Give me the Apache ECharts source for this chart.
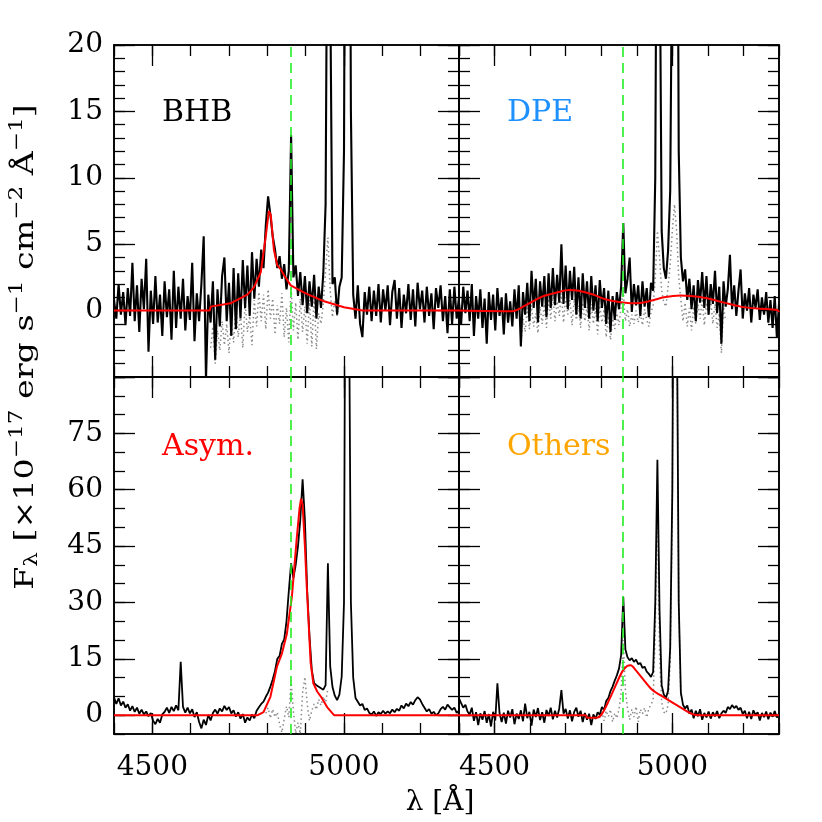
<!DOCTYPE html>
<html>
<head>
<meta charset="utf-8">
<script src="https://cdn.jsdelivr.net/npm/echarts@6/dist/echarts.min.js"></script>
<style>
  html, body { margin: 0; padding: 0; background: #fff; }
  #chart { width: 822px; height: 822px; }
</style>
</head>
<body>
<div id="chart"></div>
<script>
// wavelength grid of the spectra (Angstrom)
var waveStart = 4400, waveStep = 6;

// observed flux, one value per grid step (4400..5300)
var fluxBHB = [
  0.8, -0.6, 2.0, -0.3, 1.4, -1.1, 1.7, -0.4, 3.6, -0.8,
  1.9, -1.6, 2.4, 0.1, 3.9, -3.1, 1.5, -1.0, 2.6, -0.9,
  1.2, -1.9, 2.2, -0.5, 1.6, -2.2, 3.0, -1.3, 1.8, -0.6,
  2.4, -1.5, 1.1, -0.7, 3.6, -2.3, 1.3, -0.8, 2.0, 5.6,
  -5.2, 1.2, -0.9, 2.2, -3.7, 1.6, -1.2, 2.6, 4.0, -0.8,
  2.1, -1.9, 3.2, -1.4, 2.8, -0.6, 3.8, 0.2, 3.4, -0.4,
  4.4, 0.9, 3.9, 1.8, 4.6, 3.2, 6.4, 8.6, 7.2, 5.6,
  4.6, 3.2, 4.1, 2.4, 3.5, 1.6, 3.0, 13.2, 2.5, 3.4,
  1.1, 2.9, 0.4, 2.6, -0.2, 2.2, 0.3, 2.7, -0.6, 1.8,
  0.2, 2.8, 8, 40, 25, 2, 2.5, -0.3, 1.8, 2.5,
  12, 60, 60, 15, 1.2, -0.6, 1.9, -1.0, -2.0, 1.4,
  -0.3, 1.8, -0.8, 1.5, -0.4, 2.0, -0.9, 1.6, 0.0, 1.9,
  -1.1, 1.4, 2.3, -0.6, 1.7, -1.3, 1.2, -0.2, 2.0, -0.7,
  1.6, -1.2, 2.1, 0.1, 1.5, -0.9, 1.8, -0.4, 1.3, -1.4,
  1.7, 0.2, 1.9, -0.8, 1.1, -1.7, 1.6, -1.0, 1.8, -0.6, 1.0
];
var fluxDPE = [
  0.6, -1.0, 1.8, -0.2, 1.5, -0.8, 2.0, -1.9, 1.1, -0.6,
  1.6, -1.3, 0.9, -2.5, 1.4, -0.7, 1.2, -1.5, 1.7, -0.4,
  1.0, -1.8, 1.3, -0.9, 0.7, -1.2, 1.6, -0.6, 1.9, -2.7,
  1.4, -0.3, 2.1, -0.8, 3.0, 0.2, 2.4, -0.9, 2.2, 0.3,
  2.6, -0.5, 2.8, 0.2, 3.2, 0.4, 2.7, 0.6, 5.0, 0.5,
  3.4, 0.1, 3.0, 0.8, 3.3, -0.3, 2.5, -0.6, 2.8, 0.2,
  2.2, -0.6, 2.6, 0.0, 1.9, -0.8, 2.3, 0.2, 1.7, -1.0,
  1.5, -1.6, 1.1, -0.7, 1.4, 0.1, 1.8, 6.6, 1.3, 2.4,
  4.0, -0.1, 2.0, 0.4, 1.9, -0.4, 2.2, 0.3, 1.7, -0.5,
  2.1, 1.5, 10, 45, 30, 6, 3.2, 2.4, 4.5, 9,
  30, 60, 50, 12, 4.0, 2.2, 3.1, 0.8, 2.4, 0.1,
  1.9, -0.8, 2.3, 0.6, 2.9, 0.2, 2.6, -0.3, 2.0, 0.5,
  3.0, -0.2, 1.8, -2.5, 2.2, 0.3, 1.6, 4.2, 0.1, 1.9,
  -0.4, 1.5, 3.1, -0.6, 1.3, 0.0, 1.7, -0.9, 1.2, 0.2,
  1.6, -0.7, 1.0, -0.3, 1.4, -0.9, 0.8, -1.3, 1.1, -2.0, 0.5
];
var fluxAsym = [
  4.8, 3.0, 4.5, 2.6, 3.6, 2.0, 2.9, 1.2, 2.4, 0.9,
  2.0, 0.4, 1.5, 0.2, 1.0, -0.3, 0.6, -1.5, -2.4, -1.0,
  -2.0, 0.2, 0.9, 2.0, 0.6, 2.2, 1.1, 2.6, 1.3, 14.2,
  2.2, 0.7, 2.0, 0.5, 1.6, -0.5, 0.8, -1.8, -3.5, -1.2,
  -2.6, 0.1, -1.4, 0.6, 1.5, 0.4, 1.8, 1.0, 2.5, 1.4,
  2.2, 0.5, 1.3, -0.4, 0.8, -0.9, 0.3, -2.0, -0.6, -1.4,
  0.2, -0.8, 1.2, 2.1, 3.0, 3.6, 4.9, 6.0, 7.6, 9.5,
  11.8, 15.0, 15.8, 19.0, 20.2, 25.0, 33.0, 40.4, 36.5, 40.0,
  45.0, 52.0, 62.8, 52.0, 33.0, 21.0, 12.0, 8.5, 8.0, 7.6,
  7.2, 6.8, 8.0, 40.4, 13.0, 7.5, 5.2, 4.0, 5.5, 10.3,
  30, 200, 130, 30, 10, 4.6, 3.6, 2.6, 3.0, 1.4,
  1.8, 0.6, 0.2, 1.0, -0.2, 0.8, 0.3, 1.2, 0.4, 1.0,
  0.5, 1.5, 0.8, 1.7, 1.2, 2.6, 1.8, 3.1, 2.4, 3.5,
  2.8, 4.0, 4.8, 4.2, 3.0, 2.0, 1.0, 1.6, 0.4, 0.9,
  0.0, 0.5, 1.6, 2.2, 1.5, 2.8, 2.1, 1.4, 2.0, 0.6, 1.2
];
var fluxOthers = [
  4.5, 3.2, 2.0, 2.8, 1.0, 0.2, 2.0, -1.5, 0.8, -2.6,
  0.5, -1.2, 1.1, -2.0, 0.3, -3.0, 0.9, -1.4, 8.5, 0.6,
  -1.8, 0.7, -2.2, 1.2, -0.6, 1.6, -2.4, 0.4, -1.0, 1.3,
  -1.6, 3.1, -0.8, 0.9, -2.8, 1.5, -0.5, 1.9, -1.3, 0.8,
  -2.0, 1.4, -0.2, 2.0, -1.1, 1.2, -0.6, 1.8, 6.7, 0.4,
  1.7, -0.9, 1.3, -1.6, 0.9, 2.0, -0.4, 1.2, -1.8, 0.6,
  -1.2, 0.4, -2.6, 0.2, -1.0, 0.8, 0.1, 2.2, 1.4, 3.8,
  4.6, 6.4, 7.6, 9.2, 10.6, 12.4, 16.0, 31.5, 17.5, 15.4,
  14.6, 15.2, 14.2, 14.8, 13.6, 13.9, 12.6, 12.9, 11.6, 11.0,
  10.2, 11.5, 30, 68, 28, 8, 5.5, 4.6, 6.5, 18,
  60, 180, 120, 30, 6.0, 2.8, 1.8, 2.6, 0.4, 1.5,
  -0.8, 1.2, -0.3, 1.6, -1.2, 0.6, -0.6, 1.0, -0.9, 0.8,
  -0.3, 1.1, -0.8, 0.5, 1.2, 0.6, 2.2, 1.6, 2.7, 1.9,
  2.5, 1.4, 2.0, 0.3, 1.2, -0.8, 0.9, -1.0, 1.3, 0.1,
  0.8, -1.4, 0.6, -0.5, 1.0, -1.1, 0.7, -0.4, 1.1, -0.6, 0.4
];

// residuals (grey dotted), same step, own start wavelength
var resBHBStart = 4652;
var resBHB = [
  -2.8, -1.2, -4.0, -1.5, -3.0, -0.8, -2.6, -1.0, -3.2, -0.6,
  -2.4, 0.4, -2.0, -0.2, -2.8, 0.6, -1.6, -0.4, -2.6, 0.8,
  -1.2, 1.4, -0.8, 1.2, -1.4, 1.6, -0.6, 0.9, -1.8, 0.4,
  -1.0, 1.3, -2.0, 0.2, -2.4, 1.8, -1.5, 0.6, -2.2, 0.9,
  -1.6, 0.3, -2.5, 0.8, -2.7, 1.1, -2.9, -0.2, -1.0, 0.5,
  3.0, 5.5, 1.5, -0.5, 0.8, -0.4, 0.6
];
var resDPEStart = 4574;
var resDPE = [
  -2.6, -0.6, -1.6, 0.2, -1.4, 0.4, -1.2, -0.2, -1.7, 0.3,
  -1.0, 0.5, -1.3, 0.9, -0.6, 1.2, -0.8, 0.7, -0.4, 1.3,
  -0.9, 1.0, -0.3, 0.8, -1.1, 0.9, -0.7, 0.4, -1.3, 0.6,
  -0.8, 0.3, -1.5, 0.5, -1.0, 0.2, -1.8, 0.4, -0.9, 0.1,
  -2.0, -0.4, -2.2, -0.6, -1.4, -0.2, -1.1, 0.3, 1.5, -0.8,
  0.1, -1.2, -0.3, -1.0, 0.0, -0.9, -0.2, -1.1, 0.1, -0.7,
  -1.2, -0.1, 0.3, 2.5, 6.0, 4.0, 1.5, 0.6, 0.3, 1.8,
  3.5, 6.0, 8.0, 6.0, 2.5, 0.8, -0.8, 0.6, -1.2, 0.2,
  -1.5, 0.3, -1.0, 0.5, -0.6, 0.9, -1.1, 0.6, -0.4, 0.8,
  -1.0, 0.5, -1.3, -0.2, -3.2, 0.3, -0.8
];
var resAsymStart = 4796;
var resAsym = [
  0.5, 2.0, -0.8, 1.6, -0.5, 0.8, -2.5, -4.6, -1.0, 2.4,
  -0.6, 9.2, 1.0, -4.8, -2.0, -5.0, 6.0, 10.2, 3.0, -1.5,
  1.2, 3.0, 1.5, 4.2, 2.6, 5.0, 3.5, 7.0
];
var resOthersStart = 4796;
var resOthers = [
  -0.6, 0.8, -1.5, 1.2, -0.4, 1.5, -1.8, 0.6, -0.8, 1.6,
  6.0, 20.0, 6.5, 1.8, -1.2, 1.6, -0.5, 2.3, -1.8, 1.6,
  0.4, 2.0, -0.6, 1.8, 2.8, 4.2, 22, 60, 16, 3.5,
  0.8, 0.4, 2.8, 14, 55, 175, 118, 28, 5
];

// broad-line model (red)
var modelBHBWave = [4400, 4650, 4652, 4704, 4748, 4765, 4783, 4796, 4804, 4809, 4817, 4826, 4835, 4845, 4861, 4896, 4948, 5000, 5048, 5300];
var modelBHB     = [0, 0, 0.3, 0.55, 1.2, 1.75, 2.9, 5.6, 7.5, 7.2, 4.6, 3.4, 3.1, 2.6, 1.9, 1.35, 0.7, 0.25, 0, 0];
var modelDPEWave = [4400, 4550, 4587, 4634, 4681, 4709, 4737, 4775, 4812, 4850, 4892, 4930, 4977, 5023, 5052, 5098, 5145, 5192, 5239, 5295, 5300];
var modelDPE     = [0, -0.05, 0.4, 1.05, 1.4, 1.55, 1.5, 1.23, 0.85, 0.65, 0.55, 0.67, 1.0, 1.13, 1.1, 0.93, 0.6, 0.3, 0.15, 0.05, -0.1];
var modelAsymWave = [4400, 4775, 4790, 4808, 4825, 4838, 4851, 4864, 4877, 4884, 4888, 4892, 4898, 4903, 4908, 4913, 4920, 4930, 4942, 4957, 4974, 5300];
var modelAsym     = [0, 0, 0.8, 4.9, 12.9, 16.4, 21.7, 31.5, 47.4, 55, 57.6, 56, 45, 34, 24, 14, 8.5, 6.3, 4.6, 2.0, 0, 0];
var modelOthersWave = [4400, 4756, 4760, 4790, 4803, 4822, 4841, 4859, 4873, 4883, 4897, 4916, 4944, 4981, 5019, 5056, 5080, 5300];
var modelOthers     = [0, 0, -0.7, -0.6, 0.5, 4.0, 8.0, 11.6, 13.1, 13.3, 12.0, 9.8, 6.7, 4.5, 2.3, 0.3, 0, 0];

var hbeta = 4861;

// ticks and labels
var xMinorTicks = [4400, 4500, 4600, 4700, 4800, 4900, 5000, 5100, 5200, 5300];
var xMajorTicks = [4500, 5000];
var xLabels = [4500, 5000];
var yTopMinor = [-5, -4, -3, -2, -1, 0, 1, 2, 3, 4, 5, 6, 7, 8, 9, 10, 11, 12, 13, 14, 15, 16, 17, 18, 19, 20];
var yTopMajor = [-5, 0, 5, 10, 15, 20];
var yTopLabels = [0, 5, 10, 15, 20];
var yBotMinor = [-5, 0, 5, 10, 15, 20, 25, 30, 35, 40, 45, 50, 55, 60, 65, 70, 75, 80, 85, 90];
var yBotMajor = [0, 15, 30, 45, 60, 75, 90];
var yBotLabels = [0, 15, 30, 45, 60, 75];

var FONT = 'DejaVu Serif';

var panels = [
  { name: 'BHB', color: '#000000', flux: fluxBHB, res: resBHB, resStart: resBHBStart, mw: modelBHBWave, m: modelBHB, smooth: false,
    box: [114, 45, 345, 332], y: [-5, 20], yMinor: yTopMinor, yMajor: yTopMajor, yLab: yTopLabels, xLab: false, showY: true, lw: 2.1 },
  { name: 'DPE', color: '#1e90ff', flux: fluxDPE, res: resDPE, resStart: resDPEStart, mw: modelDPEWave, m: modelDPE, smooth: 0.3,
    box: [459, 45, 320, 332], y: [-5, 20], yMinor: yTopMinor, yMajor: yTopMajor, yLab: yTopLabels, xLab: false, showY: false, lw: 2.1 },
  { name: 'Asym.', color: '#ff0000', flux: fluxAsym, res: resAsym, resStart: resAsymStart, mw: modelAsymWave, m: modelAsym, smooth: false,
    box: [114, 377, 345, 357], y: [-5, 90], yMinor: yBotMinor, yMajor: yBotMajor, yLab: yBotLabels, xLab: true, showY: true, lw: 1.8 },
  { name: 'Others', color: '#ffa500', flux: fluxOthers, res: resOthers, resStart: resOthersStart, mw: modelOthersWave, m: modelOthers, smooth: 0.3,
    box: [459, 377, 320, 357], y: [-5, 90], yMinor: yBotMinor, yMajor: yBotMajor, yLab: yBotLabels, xLab: true, showY: false, lw: 1.8 }
];

function mkAxis(dim, gi, pos, min, max, ticks, len, labels) {
  return {
    type: 'value', gridIndex: gi, position: pos, min: min, max: max,
    axisLine: { show: true, onZero: false, lineStyle: { color: '#000', width: 1.6 } },
    axisTick: { show: true, inside: true, length: len, customValues: ticks, lineStyle: { color: '#000', width: 1.3 } },
    axisLabel: { show: !!labels, customValues: labels || undefined, color: '#000', fontFamily: FONT, fontSize: 28,
                 margin: dim === 'x' ? 20 : 11,
                 formatter: function (v) { return String(v); } },
    splitLine: { show: false }
  };
}

function pairs(start, vals) {
  var out = [];
  for (var i = 0; i < vals.length; i++) out.push([start + i * waveStep, vals[i]]);
  return out;
}
function zip(w, v) {
  return w.map(function (x, i) { return [x, v[i]]; });
}

var grids = [], xAxes = [], yAxes = [], series = [], texts = [];
panels.forEach(function (p, gi) {
  grids.push({ left: p.box[0], top: p.box[1], width: p.box[2], height: p.box[3], containLabel: false });
  // x axes: bottom major (with labels), bottom minor, top major, top minor
  xAxes.push(mkAxis('x', gi, 'bottom', 4400, 5300, xMajorTicks, 21, p.xLab ? xLabels : null));
  xAxes.push(mkAxis('x', gi, 'bottom', 4400, 5300, xMinorTicks, 11, null));
  xAxes.push(mkAxis('x', gi, 'top', 4400, 5300, xMajorTicks, 21, null));
  xAxes.push(mkAxis('x', gi, 'top', 4400, 5300, xMinorTicks, 11, null));
  yAxes.push(mkAxis('y', gi, 'left', p.y[0], p.y[1], p.yMajor, 21, p.showY ? p.yLab : null));
  yAxes.push(mkAxis('y', gi, 'left', p.y[0], p.y[1], p.yMinor, 11, null));
  yAxes.push(mkAxis('y', gi, 'right', p.y[0], p.y[1], p.yMajor, 21, null));
  yAxes.push(mkAxis('y', gi, 'right', p.y[0], p.y[1], p.yMinor, 11, null));

  var ax = gi * 4;
  series.push({
    type: 'line', xAxisIndex: ax, yAxisIndex: ax, data: pairs(p.resStart, p.res),
    showSymbol: false, clip: true, z: 2,
    lineStyle: { color: '#8a8a8a', width: 1.5, type: [1.5, 3] }
  });
  series.push({
    type: 'line', xAxisIndex: ax, yAxisIndex: ax, data: pairs(waveStart, p.flux),
    showSymbol: false, clip: true, z: 3,
    lineStyle: { color: '#000', width: p.lw }
  });
  series.push({
    type: 'line', xAxisIndex: ax, yAxisIndex: ax, data: zip(p.mw, p.m),
    showSymbol: false, clip: true, z: 4, smooth: p.smooth,
    lineStyle: { color: '#ff0000', width: 2 },
    markLine: {
      silent: true, symbol: ['none', 'none'], label: { show: false },
      lineStyle: { color: '#22ee22', type: [10, 6], width: 1.6 },
      data: [{ xAxis: hbeta }]
    }
  });
  texts.push({
    type: 'text', x: p.box[0] + 48, y: p.box[1] + (gi < 2 ? 68 : 70),
    style: { text: p.name, fill: p.color, font: '30px "' + FONT + '"', verticalAlign: 'middle' }
  });
});

// axis titles
texts.push({
  type: 'text', x: 440, y: 803,
  style: { text: 'λ [Å]', fill: '#000', font: '28px "' + FONT + '"', align: 'center', verticalAlign: 'middle' }
});
texts.push({
  type: 'text', x: 26, y: 347, rotation: Math.PI / 2, scaleX: 1.28,
  style: {
    text: '{n|F}{sub|λ}{n| [×10}{sup|−17}{n| erg s}{sup|−1}{n| cm}{sup|−2}{n| Å}{sup|−1}{n|]}',
    align: 'center', verticalAlign: 'middle',
    rich: {
      n: { fontSize: 26, fontFamily: FONT, fill: '#000' },
      sup: { fontSize: 18, fontFamily: FONT, fill: '#000', padding: [0, 0, 18, 0] },
      sub: { fontSize: 18, fontFamily: FONT, fill: '#000', padding: [12, 0, 0, 0] }
    }
  }
});

var myChart = echarts.init(document.getElementById('chart'));
myChart.setOption({
  animation: false,
  backgroundColor: '#fff',
  grid: grids,
  xAxis: xAxes,
  yAxis: yAxes,
  series: series,
  graphic: texts
});
</script>
</body>
</html>
